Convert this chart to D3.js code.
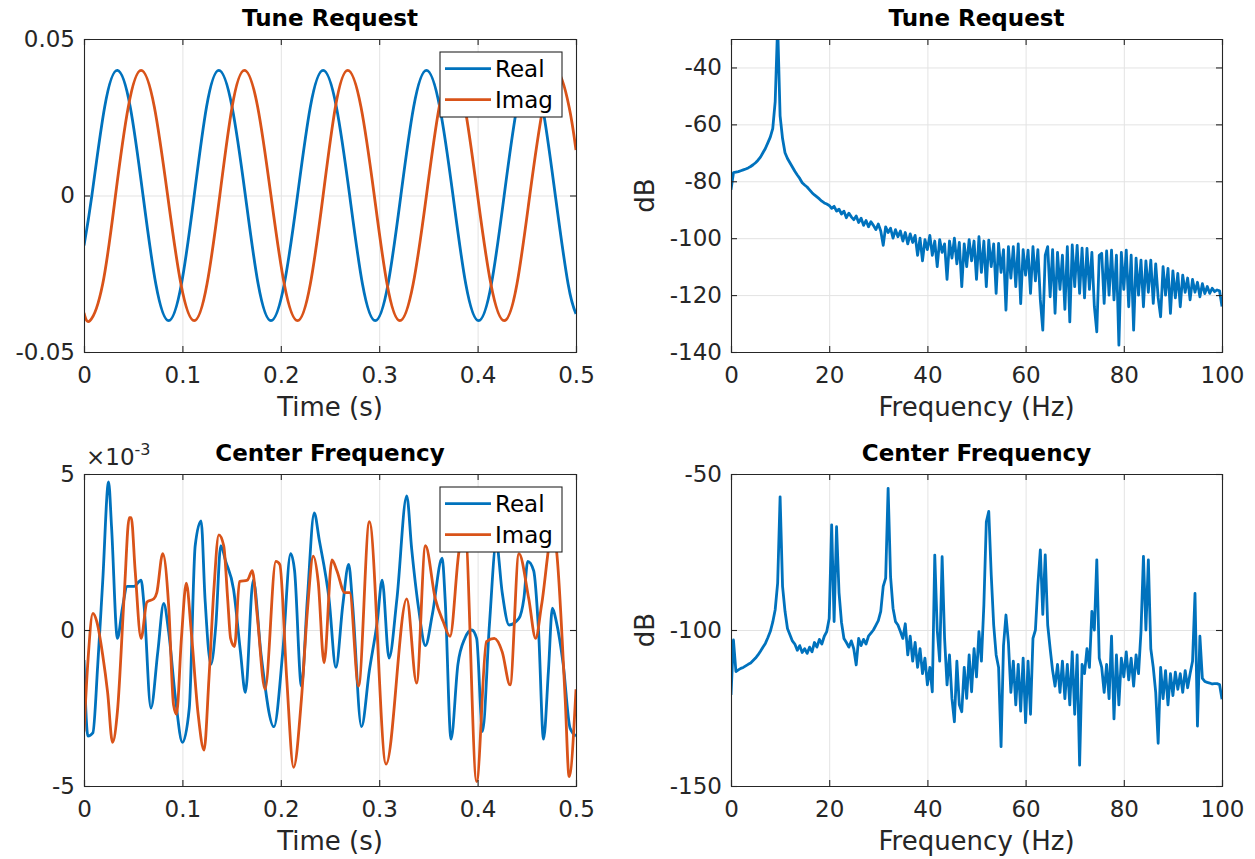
<!DOCTYPE html>
<html>
<head>
<meta charset="utf-8">
<script src="https://cdn.jsdelivr.net/npm/d3@7"></script>
<style>
  body { margin: 0; background: #fff; }
  text { font-family: "DejaVu Sans", sans-serif; fill: #262626; }
</style>
</head>
<body>
<script>

// ---- data ----

// Tune Request, time domain (samples every eighth of a period)
var tuneRealT = [0, 0.008, 0.021, 0.034, 0.047, 0.060, 0.073, 0.086, 0.099, 0.112, 0.1245,
                 0.137, 0.1505, 0.164, 0.177, 0.190, 0.2035, 0.217, 0.230, 0.243, 0.2565,
                 0.270, 0.283, 0.296, 0.309, 0.322, 0.335, 0.348, 0.3615, 0.375, 0.388,
                 0.401, 0.414, 0.427, 0.440, 0.453, 0.466, 0.479, 0.492, 0.5];
var tuneReal  = [-0.016, 0, 0.0283, 0.04, 0.0283, 0, -0.0283, -0.04, -0.0283, 0, 0.0283,
                 0.04, 0.0283, 0, -0.0283, -0.04, -0.0283, 0, 0.0283, 0.04, 0.0283,
                 0, -0.0283, -0.04, -0.0283, 0, 0.0283, 0.04, 0.0283, 0, -0.0283,
                 -0.04, -0.0283, 0, 0.0283, 0.04, 0.0283, 0, -0.0283, -0.0378];
var tuneImagT = [0, 0.006, 0.019, 0.032, 0.045, 0.058, 0.0715, 0.085, 0.0985, 0.112, 0.125,
                 0.138, 0.1505, 0.163, 0.1765, 0.190, 0.2035, 0.217, 0.230, 0.243, 0.2555,
                 0.268, 0.2815, 0.295, 0.308, 0.321, 0.3345, 0.348, 0.361, 0.374, 0.387,
                 0.400, 0.4135, 0.427, 0.440, 0.453, 0.4665, 0.480, 0.493, 0.5];
var tuneImag  = [-0.0375, -0.04, -0.0283, 0, 0.0283, 0.04, 0.0283, 0, -0.0283, -0.04, -0.0283,
                 0, 0.0283, 0.04, 0.0283, 0, -0.0283, -0.04, -0.0283, 0, 0.0283,
                 0.04, 0.0283, 0, -0.0283, -0.04, -0.0283, 0, 0.0283, 0.04, 0.0283,
                 0, -0.0283, -0.04, -0.0283, 0, 0.0283, 0.04, 0.0283, 0.0145];

// Center Frequency, time domain (units of 1e-3)
var centerRealT = [0, 0.004, 0.009, 0.014, 0.019, 0.025, 0.028, 0.034, 0.039, 0.044, 0.051, 0.058,
                   0.061, 0.068, 0.075, 0.081, 0.086, 0.093, 0.100, 0.107, 0.113, 0.119, 0.123,
                   0.129, 0.134, 0.139, 0.144, 0.152, 0.159, 0.164, 0.172, 0.180, 0.193, 0.202,
                   0.210, 0.214, 0.221, 0.227, 0.234, 0.239, 0.249, 0.256, 0.263, 0.269, 0.273,
                   0.282, 0.290, 0.298, 0.303, 0.310, 0.318, 0.328, 0.333, 0.340, 0.347, 0.354,
                   0.364, 0.367, 0.373, 0.380, 0.387, 0.394, 0.399, 0.405, 0.412, 0.419, 0.425,
                   0.432, 0.442, 0.447, 0.451, 0.457, 0.462, 0.467, 0.472, 0.476, 0.480, 0.487,
                   0.494, 0.500];
var centerReal  = [-0.96, -3.4, -3.3, -1.1, 1.55, 4.75, 3.3, -0.27, 0.7, 1.4, 1.4, 1.6,
                   0.8, -2.5, -0.7, 0.85, -0.05, -2.2, -3.6, -2.5, 2.7, 3.5, 1.0,
                   -1.1, 0.16, 2.7, 2.2, 1.3, -0.7, -2.0, 1.6, -0.8, -3.1, -0.7,
                   2.45, 1.9, -1.8, 1.0, 3.75, 2.9, 1.0, -1.2, 0.8, 2.1, 0.8,
                   -3.1, -1.3, 0.27, 1.6, -0.9, 1.0, 4.3, 2.6, 0.7, -0.5, 0.5,
                   2.3, 1.0, -3.5, -1.1, -0.27, 0.0, -0.27, -3.25, 0.16, 2.8, 1.2,
                   0.16, 0.37, 1.0, 2.2, 1.9, -0.05, -3.5, -1.3, 0.7, 0.27, -1.1,
                   -3.15, -3.4];
var centerImagT = [0, 0.004, 0.009, 0.013, 0.019, 0.024, 0.029, 0.034, 0.041, 0.046, 0.048, 0.052,
                   0.058, 0.064, 0.071, 0.074, 0.080, 0.086, 0.091, 0.094, 0.099, 0.104, 0.109,
                   0.116, 0.122, 0.127, 0.132, 0.137, 0.142, 0.146, 0.149, 0.153, 0.158, 0.166,
                   0.171, 0.176, 0.184, 0.195, 0.199, 0.206, 0.213, 0.221, 0.227, 0.233, 0.238,
                   0.244, 0.252, 0.257, 0.265, 0.270, 0.279, 0.290, 0.307, 0.328, 0.338, 0.347,
                   0.357, 0.365, 0.372, 0.381, 0.387, 0.399, 0.409, 0.417, 0.425, 0.433, 0.442,
                   0.452, 0.459, 0.465, 0.476, 0.480, 0.489, 0.493, 0.500];
var centerImag  = [-3.25, -1.0, 0.53, 0.27, -0.8, -2.0, -3.6, -2.6, 1.2, 3.6, 3.6, 1.9,
                   -0.27, 0.9, 1.0, 1.2, 2.45, 0.8, -2.4, -2.7, -0.27, 1.5, -0.05,
                   -2.7, -3.85, -1.55, 1.3, 3.05, 2.7, 1.0, -0.27, -0.53, 1.55, 1.6,
                   1.9, 0.48, -1.9, 2.2, 2.1, -1.55, -4.4, -2.2, 0.6, 2.37, 1.55,
                   -1.05, 2.25, 1.9, 1.2, 1.2, -1.8, 3.47, -4.3, 1.0, -1.7, 2.7,
                   1.0, 0.27, -0.2, 2.5, 3.3, -4.86, -0.37, -0.27, -0.7, -1.76, 2.45,
                   1.0, -0.27, 0.8, 3.1, 2.6, -2.2, -4.7, -1.9];

// spectra, one value every 0.5 Hz from 0 to 100 Hz (dB)
var specStep = 0.5;
var tuneDb = [
  -83, -77, -76.8, -76.6, -76.3, -76, -75.7, -75.3, -74.8, -74.2,
  -73.5, -72.6, -71.5, -70, -68.5, -66.5, -64.5, -61.5, -52, -25,
  -57, -65, -70, -72, -73.5, -75, -76.5, -77.8, -79, -80.5,
  -81.3, -82, -83, -84, -84.8, -85.5, -86.2, -87, -87.6, -88,
  -88.5, -89.5, -88.8, -90.5, -89.8, -91.5, -90.5, -92.8, -91.2, -92.5,
  -93.5, -92.2, -94.5, -93, -95.5, -93.8, -96, -94.2, -95.5, -97,
  -95, -97.5, -102.5, -96, -98, -96.5, -100, -97, -99.5, -97.5,
  -101, -98, -102, -98.5, -101.5, -99, -106, -100, -108, -100.5,
  -104, -99, -106, -101, -110, -100.5, -105, -102, -114.5, -101,
  -107, -100, -109, -101.5, -117, -102, -110, -100.5, -108, -101,
  -114.5, -99.5, -112, -101, -117, -100.7, -110, -102, -119.4, -101.8,
  -112, -104, -125.3, -103, -114, -103, -117, -102, -123, -104,
  -113, -104.2, -119.4, -103, -115, -104, -121.7, -132.3, -106, -103,
  -120.6, -104, -126.4, -105, -118, -106, -125, -103, -129.4, -102.4,
  -117, -102.5, -119.4, -103.5, -121, -103.6, -118, -105, -124, -132.9,
  -106, -105.3, -122.9, -104.5, -120, -104.2, -121.7, -106, -137.6, -105,
  -118, -104.2, -124.1, -106, -132.3, -107, -120, -107.7, -124.1, -108,
  -119, -107.7, -122.9, -109, -121, -127.6, -110, -120, -110.6, -126.4,
  -111.5, -121, -112.4, -124.1, -113, -119, -114, -121.7, -114.5, -119,
  -115.5, -120.6, -116, -119.5, -117, -119.4, -117.6, -118.8, -118.2, -118.5,
  -124];
var centerDb = [
  -120.8, -103.2, -113.3, -112.8, -112.3, -112, -111.5, -111, -110.6, -109.8,
  -109, -108, -106.8, -105.5, -104.3, -102.5, -100.5, -97.5, -93.5, -85,
  -57.3, -86, -94, -99.5, -101.5, -103.5, -104.5, -106.5, -105, -107.2,
  -106, -107.5, -105.5, -107, -104, -105.5, -103, -104.5, -102, -100.5,
  -96.3, -66.3, -97.3, -66.9, -88, -97.5, -102.7, -104, -105.5, -103.5,
  -106, -111.2, -102.7, -105, -103, -104.5, -102, -101, -100, -98.5,
  -97, -94, -86, -83.4, -54.6, -83, -93, -97.3, -98.4, -100.5,
  -102.7, -98, -108, -102, -110, -104, -112, -106, -114, -109,
  -117.6, -112, -119.8, -76, -100, -110, -76.5, -102.7, -117.6, -108,
  -122, -129.4, -110, -124, -126.2, -112, -121.9, -108, -119.8, -106,
  -115, -100.5, -110, -92, -65.3, -62, -82.3, -98.4, -108, -112,
  -137.4, -105, -95.2, -104, -120, -110, -124, -111, -126, -109,
  -129.7, -110, -127, -102.7, -100, -85.5, -74.3, -95, -75.9, -98.4,
  -106, -113, -118, -111, -120, -110, -122, -111, -124, -107,
  -127, -108, -143.3, -111, -114, -106, -112, -94, -100, -77.5,
  -109, -112, -120, -111, -122, -102, -128.5, -108, -124, -109,
  -115, -107, -116, -109, -118, -108, -114, -100.5, -76.4, -100,
  -77.5, -106, -112, -120, -136.3, -112, -122, -113, -124, -114,
  -121, -113.5, -119, -114, -120, -113, -118.5, -114, -110, -88.3,
  -130.8, -102, -115.5, -116.5, -116.8, -117, -117.3, -117.2, -117.2, -117.5,
  -122.2];

// axes ticks and labels
var timeTicks = [0, 0.1, 0.2, 0.3, 0.4, 0.5];
var freqTicks = [0, 20, 40, 60, 80, 100];
var tuneTimeTicks = [-0.05, 0, 0.05];
var tuneDbTicks = [-140, -120, -100, -80, -60, -40];
var centerTimeTicks = [-5, 0, 5];
var centerDbTicks = [-150, -100, -50];
var legendLabels = ["Real", "Imag"];
var seriesColors = ["#0072BD", "#D95319"];

var svg = d3.select("body").append("svg")
    .attr("width", 1255)
    .attr("height", 859);

var clipId = 0;

// one MATLAB style axes box
function panel(o) {
  var w = o.width, h = o.height;
  var x = d3.scaleLinear().domain(o.xDomain).range([0, w]);
  var y = d3.scaleLinear().domain(o.yDomain).range([h, 0]);

  var g = svg.append("g").attr("transform", "translate(" + o.left + "," + o.top + ")");

  // grid
  g.append("g")
    .attr("transform", "translate(0," + h + ")")
    .call(d3.axisBottom(x).tickValues(o.xTicks).tickSize(-h).tickFormat(""))
    .call(function(a) { a.select(".domain").remove(); })
    .selectAll("line").attr("stroke", "#e3e3e3").attr("stroke-width", 1);
  g.append("g")
    .call(d3.axisLeft(y).tickValues(o.yTicks).tickSize(-w).tickFormat(""))
    .call(function(a) { a.select(".domain").remove(); })
    .selectAll("line").attr("stroke", "#e3e3e3").attr("stroke-width", 1);

  // data lines, clipped to the box
  clipId++;
  g.append("clipPath").attr("id", "clip" + clipId)
    .append("rect").attr("width", w).attr("height", h);
  var plot = g.append("g").attr("clip-path", "url(#clip" + clipId + ")");

  o.series.forEach(function(s, i) {
    var line = d3.line()
      .x(function(d) { return x(d[0]); })
      .y(function(d) { return y(d[1]); })
      .curve(s.curve || d3.curveLinear);
    plot.append("path")
      .datum(d3.zip(s.t, s.v))
      .attr("fill", "none")
      .attr("stroke", seriesColors[i])
      .attr("stroke-width", 2.8)
      .attr("stroke-linejoin", "round")
      .attr("d", line);
  });

  // axes with inward ticks on all four sides
  var fmt = function(d) { return d === 0 ? "0" : String(d); };
  var bottom = g.append("g")
    .attr("transform", "translate(0," + h + ")")
    .call(d3.axisBottom(x).tickValues(o.xTicks).tickSize(-6).tickPadding(15).tickFormat(fmt));
  var left = g.append("g")
    .call(d3.axisLeft(y).tickValues(o.yTicks).tickSize(-6).tickPadding(9).tickFormat(fmt));
  var top = g.append("g")
    .call(d3.axisTop(x).tickValues(o.xTicks).tickSize(-6).tickFormat(""));
  var right = g.append("g")
    .attr("transform", "translate(" + w + ",0)")
    .call(d3.axisRight(y).tickValues(o.yTicks).tickSize(-6).tickFormat(""));

  [bottom, left, top, right].forEach(function(a) {
    a.select(".domain").attr("stroke", "#262626").attr("stroke-width", 1.1);
    a.selectAll("line").attr("stroke", "#262626").attr("stroke-width", 1.1);
    a.selectAll("text")
      .style("font-family", "DejaVu Sans")
      .style("font-size", "23px")
      .attr("fill", "#262626");
  });

  // title
  g.append("text")
    .attr("x", w / 2)
    .attr("y", -13)
    .attr("text-anchor", "middle")
    .style("font-size", "23px")
    .style("font-weight", "bold")
    .style("fill", "#000")
    .text(o.title);

  // x label
  g.append("text")
    .attr("x", w / 2)
    .attr("y", h + 64)
    .attr("text-anchor", "middle")
    .style("font-size", "26px")
    .text(o.xLabel);

  // y label
  if (o.yLabel) {
    g.append("text")
      .attr("transform", "translate(-77," + (h / 2) + ") rotate(-90)")
      .attr("text-anchor", "middle")
      .style("font-size", "26px")
      .text(o.yLabel);
  }

  // legend
  if (o.legend) {
    var lg = g.append("g").attr("transform", "translate(" + (w - 136) + ",13)");
    lg.append("rect")
      .attr("width", 122).attr("height", 65)
      .attr("fill", "#fff").attr("stroke", "#262626").attr("stroke-width", 1.1);
    legendLabels.forEach(function(lab, i) {
      var ly = 16.6 + i * 31;
      lg.append("line")
        .attr("x1", 5).attr("x2", 51).attr("y1", ly).attr("y2", ly)
        .attr("stroke", seriesColors[i]).attr("stroke-width", 2.8);
      lg.append("text")
        .attr("x", 55).attr("y", ly).attr("dy", "0.36em")
        .style("font-size", "23px")
        .style("fill", "#000")
        .text(lab);
    });
  }
  return g;
}

var freqBins = d3.range(tuneDb.length).map(function(i) { return i * specStep; });

// top left
panel({
  left: 84, top: 39, width: 492, height: 313,
  xDomain: [0, 0.5], yDomain: [-0.05, 0.05],
  xTicks: timeTicks, yTicks: tuneTimeTicks,
  title: "Tune Request", xLabel: "Time (s)", legend: true,
  series: [{t: tuneRealT, v: tuneReal, curve: d3.curveNatural},
           {t: tuneImagT, v: tuneImag, curve: d3.curveNatural}]
});

// top right
panel({
  left: 731, top: 39, width: 491, height: 313,
  xDomain: [0, 100], yDomain: [-140, -30],
  xTicks: freqTicks, yTicks: tuneDbTicks,
  title: "Tune Request", xLabel: "Frequency (Hz)", yLabel: "dB",
  series: [{t: freqBins, v: tuneDb}]
});

// bottom left
var g3 = panel({
  left: 84, top: 474, width: 492, height: 312,
  xDomain: [0, 0.5], yDomain: [-5, 5],
  xTicks: timeTicks, yTicks: centerTimeTicks,
  title: "Center Frequency", xLabel: "Time (s)", legend: true,
  series: [{t: centerRealT, v: centerReal, curve: d3.curveMonotoneX},
           {t: centerImagT, v: centerImag, curve: d3.curveMonotoneX}]
});

// exponent label
var ex = g3.append("text").attr("x", 2).attr("y", -9);
ex.append("tspan").style("font-size", "23px").text("\u00d710");
ex.append("tspan").attr("dy", -10).style("font-size", "16px").text("-3");

// bottom right
panel({
  left: 731, top: 474, width: 491, height: 312,
  xDomain: [0, 100], yDomain: [-150, -50],
  xTicks: freqTicks, yTicks: centerDbTicks,
  title: "Center Frequency", xLabel: "Frequency (Hz)", yLabel: "dB",
  series: [{t: freqBins, v: centerDb}]
});

</script>
</body>
</html>
